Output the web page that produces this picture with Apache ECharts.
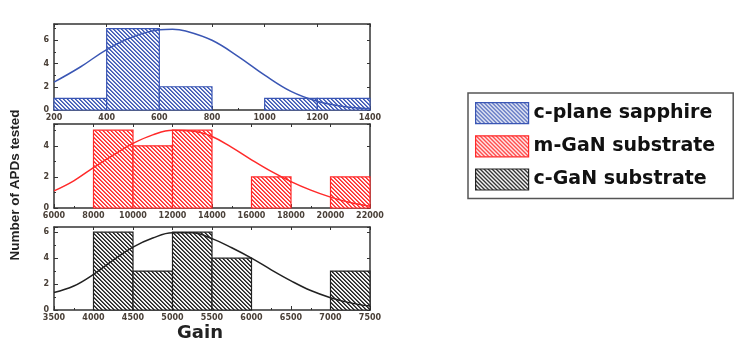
<!DOCTYPE html>
<html>
<head>
<meta charset="utf-8">
<script src="https://cdn.jsdelivr.net/npm/echarts@6/dist/echarts.min.js"></script>
<style>
  html, body { margin: 0; padding: 0; background: #fff; }
  #chart { width: 750px; height: 349px; }
</style>
</head>
<body>
<div id="chart"></div>
<script>
var seriesNames = ['c-plane sapphire', 'm-GaN substrate', 'c-GaN substrate'];

// histogram bins: [from, to, count]
var sapphireBins = [[200, 400, 1], [400, 600, 7], [600, 800, 2], [1000, 1200, 1], [1200, 1400, 1]];
var mganBins = [[8000, 10000, 5], [10000, 12000, 4], [12000, 14000, 5], [16000, 18000, 2], [20000, 22000, 2]];
var cganBins = [[4000, 4500, 6], [4500, 5000, 3], [5000, 5500, 6], [5500, 6000, 4], [7000, 7500, 3]];

// fitted curves: [gain, count]
var sapphireFit = [[200, 2.4], [300, 3.7], [400, 5.2], [500, 6.3], [600, 6.9], [650, 6.95], [700, 6.8],
  [800, 6.0], [900, 4.6], [1000, 3.0], [1100, 1.6], [1200, 0.75], [1300, 0.3], [1400, 0.1]];
var mganFit = [[6000, 1.1], [7000, 1.75], [8000, 2.6], [9000, 3.4], [10000, 4.15], [11000, 4.7], [12000, 5.0],
  [13000, 4.95], [14000, 4.6], [15000, 3.9], [16000, 3.1], [17000, 2.35], [18000, 1.7], [19000, 1.15],
  [20000, 0.7], [21000, 0.35], [22000, 0.12]];
var cganFit = [[3500, 1.35], [3750, 1.85], [4000, 2.75], [4250, 3.85], [4500, 4.85], [4750, 5.55], [5000, 5.95],
  [5250, 5.95], [5500, 5.5], [5750, 4.8], [6000, 4.0], [6250, 3.1], [6500, 2.25], [6750, 1.5], [7000, 0.95],
  [7250, 0.55], [7500, 0.3]];

// axis ranges [min, max, interval]
var xRanges = [[200, 1400, 200], [6000, 22000, 2000], [3500, 7500, 500]];
var yMax = [7.4, 5.4, 6.4];

var colors = ['#3a56b4', '#ff2a2a', '#222222'];
var labelColor = '#4a4038';

var chart = echarts.init(document.getElementById('chart'));

// crisp diagonal "\" hatching
function hatch(hex) {
    var c = document.createElement('canvas');
    c.width = 4; c.height = 4;
    var ctx = c.getContext('2d');
    var img = ctx.createImageData(4, 4);
    var r = parseInt(hex.substr(1, 2), 16), g = parseInt(hex.substr(3, 2), 16), b = parseInt(hex.substr(5, 2), 16);
    var mix = [1, 0.75, 0, 0.1];
    for (var y = 0; y < 4; y++) {
        for (var x = 0; x < 4; x++) {
            var t = mix[((x - y) % 4 + 4) % 4];
            var o = (y * 4 + x) * 4;
            img.data[o] = Math.round(255 + (r - 255) * t);
            img.data[o + 1] = Math.round(255 + (g - 255) * t);
            img.data[o + 2] = Math.round(255 + (b - 255) * t);
            img.data[o + 3] = 255;
        }
    }
    ctx.putImageData(img, 0, 0);
    return c;
}

function renderBin(params, api) {
    var p0 = api.coord([api.value(0), api.value(2)]);
    var p1 = api.coord([api.value(1), 0]);
    return {
        type: 'rect',
        shape: { x: p0[0], y: p0[1], width: p1[0] - p0[0], height: p1[1] - p0[1] },
        style: api.style()
    };
}

var grids = [
    { left: 54, width: 316, top: 24, height: 86 },
    { left: 54, width: 316, top: 124, height: 84 },
    { left: 54, width: 316, top: 227, height: 83 }
];

var xAxes = [], yAxes = [];
for (var i = 0; i < 3; i++) {
    var frame = { show: true, onZero: false, lineStyle: { color: '#333', width: 1.5 } };
    xAxes.push({
        type: 'value', gridIndex: i, position: 'bottom',
        min: xRanges[i][0], max: xRanges[i][1], interval: xRanges[i][2],
        axisLine: frame,
        axisTick: { inside: true, length: 4, lineStyle: { color: '#333' } },
        minorTick: { show: true, splitNumber: 2, length: 2, lineStyle: { color: '#333' } },
        splitLine: { show: false },
        axisLabel: { fontSize: 8, fontWeight: 'bold', color: labelColor, margin: 4, fontFamily: 'DejaVu Sans',
                     formatter: function (v) { return String(v); } }
    });
    xAxes.push({
        type: 'value', gridIndex: i, position: 'top',
        min: xRanges[i][0], max: xRanges[i][1], interval: xRanges[i][2],
        axisLine: frame,
        axisTick: { inside: true, length: 3, lineStyle: { color: '#333' } },
        splitLine: { show: false }, axisLabel: { show: false }
    });
    yAxes.push({
        type: 'value', gridIndex: i, position: 'left',
        min: 0, max: yMax[i], interval: 2,
        axisLine: frame,
        axisTick: { inside: true, length: 4, lineStyle: { color: '#333' } },
        minorTick: { show: true, splitNumber: 2, length: 2, lineStyle: { color: '#333' } },
        splitLine: { show: false },
        axisLabel: {
            fontSize: 8, fontWeight: 'bold', color: labelColor, margin: 5, fontFamily: 'DejaVu Sans',
            formatter: function (v) { return v % 2 === 0 ? String(v) : ''; }
        }
    });
    yAxes.push({
        type: 'value', gridIndex: i, position: 'right',
        min: 0, max: yMax[i], interval: 2,
        axisLine: frame,
        axisTick: { inside: true, length: 3, lineStyle: { color: '#333' } },
        splitLine: { show: false }, axisLabel: { show: false }
    });
}

var binsList = [sapphireBins, mganBins, cganBins];
var fitList = [sapphireFit, mganFit, cganFit];
var series = [];
for (var j = 0; j < 3; j++) {
    series.push({
        name: seriesNames[j], type: 'custom',
        xAxisIndex: j * 2, yAxisIndex: j * 2,
        renderItem: renderBin,
        encode: { x: [0, 1], y: 2 },
        itemStyle: { color: { image: hatch(colors[j]), repeat: 'repeat' }, borderColor: colors[j], borderWidth: 1.2 },
        data: binsList[j]
    });
    series.push({
        name: seriesNames[j] + ' fit', type: 'line',
        xAxisIndex: j * 2, yAxisIndex: j * 2,
        smooth: 0.4, showSymbol: false, symbol: 'none', z: 5,
        lineStyle: { color: colors[j], width: 1.5 },
        data: fitList[j]
    });
}

chart.setOption({
    animation: false,
    grid: grids,
    xAxis: xAxes,
    yAxis: yAxes,
    legend: {
        data: seriesNames,
        orient: 'vertical',
        left: 468, top: 93,
        padding: [9, 18, 8, 7],
        itemWidth: 53, itemHeight: 21, itemGap: 11,
        icon: 'rect',
        backgroundColor: '#fff',
        borderColor: '#555', borderWidth: 1.5,
        itemStyle: { borderWidth: 1.2 },
        textStyle: { fontSize: 19, fontWeight: 'bold', color: '#111', fontFamily: 'DejaVu Sans' }
    },
    graphic: [
        {
            type: 'text', x: 15, y: 185, rotation: Math.PI / 2,
            style: { text: 'Number of APDs tested', fontSize: 13.5, fontWeight: 'bold', fill: '#222',
                     fontFamily: 'Liberation Sans', align: 'center', verticalAlign: 'middle' }
        },
        {
            type: 'text', x: 200, y: 333,
            style: { text: 'Gain', fontSize: 18, fontWeight: 'bold', fill: '#222',
                     fontFamily: 'DejaVu Sans', align: 'center', verticalAlign: 'middle' }
        }
    ],
    series: series
});
</script>
</body>
</html>
